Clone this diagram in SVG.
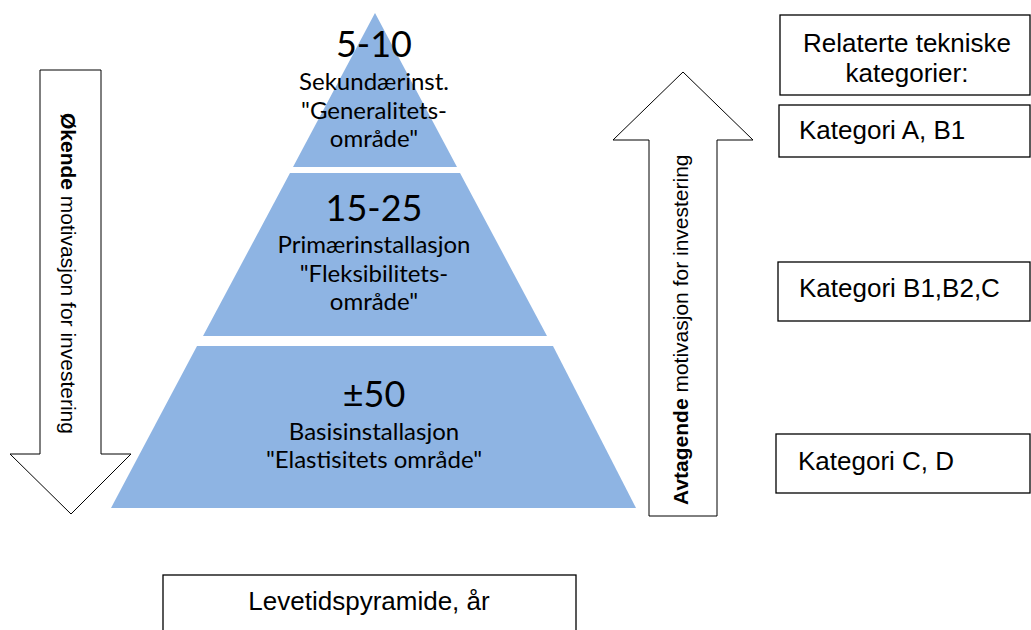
<svg xmlns="http://www.w3.org/2000/svg" width="1031" height="630" viewBox="0 0 1031 630">
<style>
.layer{fill:#8EB4E3;stroke:none}
.pt{font-family:Lato,"Open Sans",sans-serif;fill:#000;text-anchor:middle}
.big{font-size:36px}
.sm{font-size:24px}
.box{fill:#fff;stroke:#000;stroke-width:1.3}
.arr{fill:#fff;stroke:#000;stroke-width:1}
.at{font-family:"Liberation Sans",Arial,sans-serif;font-size:21px;fill:#000}
.bt{font-family:"Liberation Sans",Arial,sans-serif;font-size:26px;fill:#000}
</style>
<rect width="1031" height="630" fill="#fff"/>
<g id="pyramid-top">
<polygon class="layer" points="375,13 457,167 293,167"/>
<text class="pt big" x="374" y="57">5-10</text>
<text class="pt sm" x="374" y="90">Sekundærinst.</text>
<text class="pt sm" x="374" y="119">"Generalitets-</text>
<text class="pt sm" x="374" y="147">område"</text>
</g>
<g id="pyramid-middle">
<polygon class="layer" points="290,173 460,173 547,336 203,336"/>
<text class="pt big" x="374" y="221">15-25</text>
<text class="pt sm" x="374" y="253">Primærinstallasjon</text>
<text class="pt sm" x="374" y="282">"Fleksibilitets-</text>
<text class="pt sm" x="374" y="310">område"</text>
</g>
<g id="pyramid-bottom">
<polygon class="layer" points="197,346 553,346 636,508 111,508"/>
<text class="pt big" x="374" y="407">±50</text>
<text class="pt sm" x="374" y="440">Basisinstallasjon</text>
<text class="pt sm" x="374" y="468">"Elastisitets område"</text>
</g>
<g id="arrow-down">
<polygon class="arr" points="40,70 101,70 101,454 131,454 71,514 10,454 40,454"/>
<text class="at" transform="translate(61,113) rotate(90)"><tspan font-weight="bold">Økende</tspan> motivasjon for investering</text>
</g>
<g id="arrow-up">
<polygon class="arr" points="683,72 753,140 717,140 717,516 649,516 649,140 613,140"/>
<text class="at" transform="translate(688,505) rotate(-90)"><tspan font-weight="bold">Avtagende</tspan> motivasjon for investering</text>
</g>
<g id="box-header">
<rect class="box" x="780" y="15" width="250" height="80"/>
<text class="bt" x="907" y="52" text-anchor="middle">Relaterte tekniske</text>
<text class="bt" x="907" y="82" text-anchor="middle">kategorier:</text>
</g>
<g id="box-a">
<rect class="box" x="779" y="105" width="251" height="52"/>
<text class="bt" x="799" y="139">Kategori A, B1</text>
</g>
<g id="box-b">
<rect class="box" x="778" y="262" width="252" height="59"/>
<text class="bt" x="799" y="297">Kategori B1,B2,C</text>
</g>
<g id="box-c">
<rect class="box" x="776" y="434" width="254" height="59"/>
<text class="bt" x="798" y="470">Kategori C, D</text>
</g>
<g id="box-title">
<rect class="box" x="163" y="575" width="413" height="70"/>
<text class="bt" x="369" y="610" text-anchor="middle">Levetidspyramide, år</text>
</g>
<g id="connectors"></g>
</svg>
